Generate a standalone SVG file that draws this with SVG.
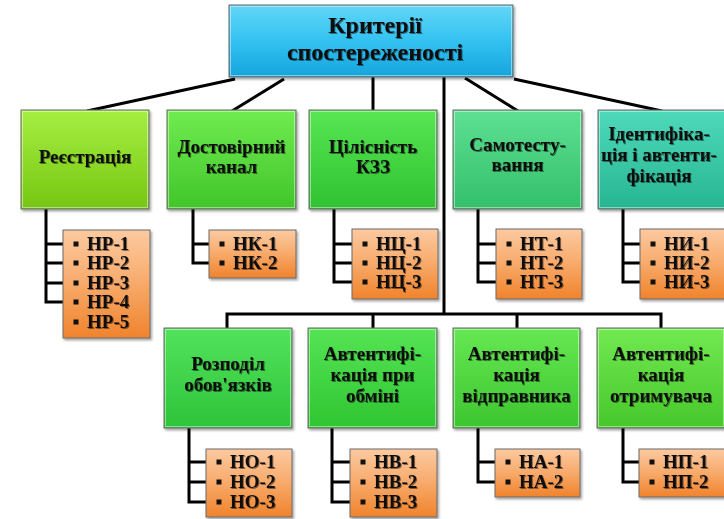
<svg xmlns="http://www.w3.org/2000/svg" width="724" height="519" viewBox="0 0 724 519">
  <defs>
    <linearGradient id="gRoot" x1="0" y1="0" x2="0" y2="1">
      <stop offset="0" stop-color="#62d6f7"/>
      <stop offset="0.5" stop-color="#33c2f1"/>
      <stop offset="1" stop-color="#16a4dc"/>
    </linearGradient>
    <linearGradient id="gReg" x1="0" y1="0" x2="0" y2="1">
      <stop offset="0" stop-color="#a6ef42"/>
      <stop offset="1" stop-color="#76c612"/>
    </linearGradient>
    <linearGradient id="gKan" x1="0" y1="0" x2="0" y2="1">
      <stop offset="0" stop-color="#70ec50"/>
      <stop offset="1" stop-color="#41c52a"/>
    </linearGradient>
    <linearGradient id="gCil" x1="0" y1="0" x2="0" y2="1">
      <stop offset="0" stop-color="#58e653"/>
      <stop offset="1" stop-color="#2fc231"/>
    </linearGradient>
    <linearGradient id="gSam" x1="0" y1="0" x2="0" y2="1">
      <stop offset="0" stop-color="#5ee093"/>
      <stop offset="1" stop-color="#33bf6a"/>
    </linearGradient>
    <linearGradient id="gIde" x1="0" y1="0" x2="0" y2="1">
      <stop offset="0" stop-color="#4edabb"/>
      <stop offset="1" stop-color="#27b592"/>
    </linearGradient>
    <linearGradient id="gRoz" x1="0" y1="0" x2="0" y2="1">
      <stop offset="0" stop-color="#52e35c"/>
      <stop offset="1" stop-color="#2ec33a"/>
    </linearGradient>
    <linearGradient id="gObm" x1="0" y1="0" x2="0" y2="1">
      <stop offset="0" stop-color="#55e454"/>
      <stop offset="1" stop-color="#30c532"/>
    </linearGradient>
    <linearGradient id="gVid" x1="0" y1="0" x2="0" y2="1">
      <stop offset="0" stop-color="#66e853"/>
      <stop offset="1" stop-color="#3dc52f"/>
    </linearGradient>
    <linearGradient id="gOtr" x1="0" y1="0" x2="0" y2="1">
      <stop offset="0" stop-color="#72e951"/>
      <stop offset="1" stop-color="#47c72b"/>
    </linearGradient>
    <linearGradient id="gOr" x1="0" y1="0" x2="0" y2="1">
      <stop offset="0" stop-color="#fccaa0"/>
      <stop offset="0.45" stop-color="#f8ad70"/>
      <stop offset="1" stop-color="#f0832c"/>
    </linearGradient>
    <filter id="boxShadow" x="-10%" y="-10%" width="125%" height="130%">
      <feDropShadow dx="1.5" dy="2" stdDeviation="1.2" flood-color="#000" flood-opacity="0.35"/>
    </filter>
    <filter id="txtShadow" x="-10%" y="-20%" width="125%" height="150%">
      <feDropShadow dx="1" dy="1" stdDeviation="0.7" flood-color="#000" flood-opacity="0.45"/>
    </filter>
  </defs>
  <style>
    .box { stroke: #6b6b6b; stroke-width: 1; filter: url(#boxShadow); }
    .hl { fill: none; stroke: #ffffff; stroke-opacity: 0.45; stroke-width: 1; }
    .lbl { font-family: "Liberation Serif", "Times New Roman", serif; font-weight: bold; fill: #111; text-anchor: middle; filter: url(#txtShadow); }
    .root { font-size: 24px; }
    .cat { font-size: 19px; }
    .item { font-family: "Liberation Serif", "Times New Roman", serif; font-weight: bold; font-size: 19px; fill: #111; filter: url(#txtShadow); }
    .bul { fill: #111; }
    .con { fill: none; stroke: #000; stroke-width: 3; stroke-linecap: butt; stroke-linejoin: miter; }
  </style>

  <!-- connectors -->
  <g id="connectors" class="con">
    <line x1="235" y1="79" x2="87" y2="111"/>
    <line x1="284" y1="79" x2="232" y2="111"/>
    <line x1="373" y1="77" x2="373" y2="110"/>
    <line x1="465" y1="78" x2="518" y2="111"/>
    <line x1="514" y1="79" x2="662" y2="111"/>
    <line x1="444" y1="77" x2="444" y2="314"/>
    <polyline points="227,328 227,314 661,314 661,328"/>
    <line x1="373" y1="314" x2="373" y2="328"/>
    <line x1="517" y1="314" x2="517" y2="328"/>
    <!-- top row brackets -->
    <path d="M46,209 V302 M44.5,244 H63 M44.5,263 H63 M44.5,283 H63 M44.5,302 H63"/>
    <path d="M193,209 V263 M191.5,244 H209 M191.5,263 H209"/>
    <path d="M334,209 V282 M332.5,244 H352 M332.5,263 H352 M332.5,282 H352"/>
    <path d="M478,209 V282 M476.5,244 H496 M476.5,263 H496 M476.5,282 H496"/>
    <path d="M623,209 V282 M621.5,244 H640 M621.5,263 H640 M621.5,282 H640"/>
    <!-- bottom row brackets -->
    <path d="M189,428 V502 M187.5,462 H206 M187.5,482 H206 M187.5,502 H206"/>
    <path d="M332,428 V502 M330.5,462 H350 M330.5,482 H350 M330.5,502 H350"/>
    <path d="M478,428 V482 M476.5,462 H495 M476.5,482 H495"/>
    <path d="M623,428 V482 M621.5,462 H639 M621.5,482 H639"/>
  </g>

  <!-- root -->
  <g id="root">
    <rect class="box" x="229" y="5" width="284" height="72" fill="url(#gRoot)"/>
    <rect class="hl" x="230.5" y="6.5" width="281" height="69"/>
    <text class="lbl root" x="375" y="33">Критерії</text>
    <text class="lbl root" x="375" y="60">спостереженості</text>
  </g>

  <!-- top row categories -->
  <g id="reestraciya">
    <rect class="box" x="21" y="110" width="128" height="99" fill="url(#gReg)"/>
    <rect class="hl" x="22.5" y="111.5" width="125" height="96"/>
    <text class="lbl cat" x="85" y="163">Реєстрація</text>
  </g>
  <g id="dostovirnyi">
    <rect class="box" x="167" y="110" width="129" height="99" fill="url(#gKan)"/>
    <rect class="hl" x="168.5" y="111.5" width="126" height="96"/>
    <text class="lbl cat" x="231.5" y="153">Достовірний</text>
    <text class="lbl cat" x="231.5" y="173">канал</text>
  </g>
  <g id="cilisnist">
    <rect class="box" x="309" y="110" width="128" height="99" fill="url(#gCil)"/>
    <rect class="hl" x="310.5" y="111.5" width="125" height="96"/>
    <text class="lbl cat" x="373" y="153">Цілісність</text>
    <text class="lbl cat" x="373" y="173">КЗЗ</text>
  </g>
  <g id="samotestuvannya">
    <rect class="box" x="453" y="110" width="129" height="99" fill="url(#gSam)"/>
    <rect class="hl" x="454.5" y="111.5" width="126" height="96"/>
    <text class="lbl cat" x="517.5" y="151">Самотесту-</text>
    <text class="lbl cat" x="517.5" y="171">вання</text>
  </g>
  <g id="identyfikaciya">
    <rect class="box" x="598" y="110" width="128" height="99" fill="url(#gIde)"/>
    <rect class="hl" x="599.5" y="111.5" width="125" height="96"/>
    <text class="lbl cat" x="659" y="140">Ідентифіка-</text>
    <text class="lbl cat" x="659" y="161">ція і автенти-</text>
    <text class="lbl cat" x="659" y="182">фікація</text>
  </g>

  <!-- bottom row categories -->
  <g id="rozpodil">
    <rect class="box" x="164" y="328" width="128" height="100" fill="url(#gRoz)"/>
    <rect class="hl" x="165.5" y="329.5" width="125" height="97"/>
    <text class="lbl cat" x="228" y="370">Розподіл</text>
    <text class="lbl cat" x="228" y="391">обов'язків</text>
  </g>
  <g id="avt-obmin">
    <rect class="box" x="308" y="328" width="129" height="100" fill="url(#gObm)"/>
    <rect class="hl" x="309.5" y="329.5" width="126" height="97"/>
    <text class="lbl cat" x="372.5" y="360">Автентифі-</text>
    <text class="lbl cat" x="372.5" y="381">кація при</text>
    <text class="lbl cat" x="372.5" y="402">обміні</text>
  </g>
  <g id="avt-vidpravnyk">
    <rect class="box" x="453" y="328" width="127" height="100" fill="url(#gVid)"/>
    <rect class="hl" x="454.5" y="329.5" width="124" height="97"/>
    <text class="lbl cat" x="516.5" y="360">Автентифі-</text>
    <text class="lbl cat" x="516.5" y="381">кація</text>
    <text class="lbl cat" x="516.5" y="402">відправника</text>
  </g>
  <g id="avt-otrymuvach">
    <rect class="box" x="597" y="328" width="128" height="100" fill="url(#gOtr)"/>
    <rect class="hl" x="598.5" y="329.5" width="125" height="97"/>
    <text class="lbl cat" x="661" y="360">Автентифі-</text>
    <text class="lbl cat" x="661" y="381">кація</text>
    <text class="lbl cat" x="661" y="402">отримувача</text>
  </g>

  <!-- requirement lists -->
  <g id="list-hp">
    <rect class="box" x="63" y="230" width="87" height="108" fill="url(#gOr)"/>
    <rect class="bul" x="73.5" y="241.5" width="5" height="5"/>
    <rect class="bul" x="73.5" y="260.5" width="5" height="5"/>
    <rect class="bul" x="73.5" y="280.5" width="5" height="5"/>
    <rect class="bul" x="73.5" y="299.5" width="5" height="5"/>
    <rect class="bul" x="73.5" y="319.5" width="5" height="5"/>
    <text class="item" x="87" y="250">НР-1</text>
    <text class="item" x="87" y="269">НР-2</text>
    <text class="item" x="87" y="289">НР-3</text>
    <text class="item" x="87" y="308">НР-4</text>
    <text class="item" x="87" y="328">НР-5</text>
  </g>
  <g id="list-hk">
    <rect class="box" x="209" y="230" width="87" height="48" fill="url(#gOr)"/>
    <rect class="bul" x="219.5" y="241.5" width="5" height="5"/>
    <rect class="bul" x="219.5" y="260.5" width="5" height="5"/>
    <text class="item" x="233" y="250">НК-1</text>
    <text class="item" x="233" y="269">НК-2</text>
  </g>
  <g id="list-hc">
    <rect class="box" x="352" y="229" width="86" height="70" fill="url(#gOr)"/>
    <rect class="bul" x="362.5" y="241.5" width="5" height="5"/>
    <rect class="bul" x="362.5" y="260.5" width="5" height="5"/>
    <rect class="bul" x="362.5" y="279.5" width="5" height="5"/>
    <text class="item" x="376" y="250">НЦ-1</text>
    <text class="item" x="376" y="269">НЦ-2</text>
    <text class="item" x="376" y="288">НЦ-3</text>
  </g>
  <g id="list-ht">
    <rect class="box" x="496" y="229" width="86" height="70" fill="url(#gOr)"/>
    <rect class="bul" x="506.5" y="241.5" width="5" height="5"/>
    <rect class="bul" x="506.5" y="260.5" width="5" height="5"/>
    <rect class="bul" x="506.5" y="279.5" width="5" height="5"/>
    <text class="item" x="520" y="250">НТ-1</text>
    <text class="item" x="520" y="269">НТ-2</text>
    <text class="item" x="520" y="288">НТ-3</text>
  </g>
  <g id="list-hi">
    <rect class="box" x="640" y="229" width="86" height="70" fill="url(#gOr)"/>
    <rect class="bul" x="650.5" y="241.5" width="5" height="5"/>
    <rect class="bul" x="650.5" y="260.5" width="5" height="5"/>
    <rect class="bul" x="650.5" y="279.5" width="5" height="5"/>
    <text class="item" x="664" y="250">НИ-1</text>
    <text class="item" x="664" y="269">НИ-2</text>
    <text class="item" x="664" y="288">НИ-3</text>
  </g>
  <g id="list-ho">
    <rect class="box" x="206" y="449" width="86" height="68" fill="url(#gOr)"/>
    <rect class="bul" x="216.5" y="459.5" width="5" height="5"/>
    <rect class="bul" x="216.5" y="479.5" width="5" height="5"/>
    <rect class="bul" x="216.5" y="499.5" width="5" height="5"/>
    <text class="item" x="230" y="468">НО-1</text>
    <text class="item" x="230" y="488">НО-2</text>
    <text class="item" x="230" y="508">НО-3</text>
  </g>
  <g id="list-hv">
    <rect class="box" x="350" y="449" width="87" height="68" fill="url(#gOr)"/>
    <rect class="bul" x="360.5" y="459.5" width="5" height="5"/>
    <rect class="bul" x="360.5" y="479.5" width="5" height="5"/>
    <rect class="bul" x="360.5" y="499.5" width="5" height="5"/>
    <text class="item" x="374" y="468">НВ-1</text>
    <text class="item" x="374" y="488">НВ-2</text>
    <text class="item" x="374" y="508">НВ-3</text>
  </g>
  <g id="list-ha">
    <rect class="box" x="495" y="449" width="85" height="48" fill="url(#gOr)"/>
    <rect class="bul" x="505.5" y="459.5" width="5" height="5"/>
    <rect class="bul" x="505.5" y="479.5" width="5" height="5"/>
    <text class="item" x="519" y="468">НА-1</text>
    <text class="item" x="519" y="488">НА-2</text>
  </g>
  <g id="list-hpp">
    <rect class="box" x="639" y="449" width="86" height="48" fill="url(#gOr)"/>
    <rect class="bul" x="649.5" y="459.5" width="5" height="5"/>
    <rect class="bul" x="649.5" y="479.5" width="5" height="5"/>
    <text class="item" x="663" y="468">НП-1</text>
    <text class="item" x="663" y="488">НП-2</text>
  </g>
</svg>
